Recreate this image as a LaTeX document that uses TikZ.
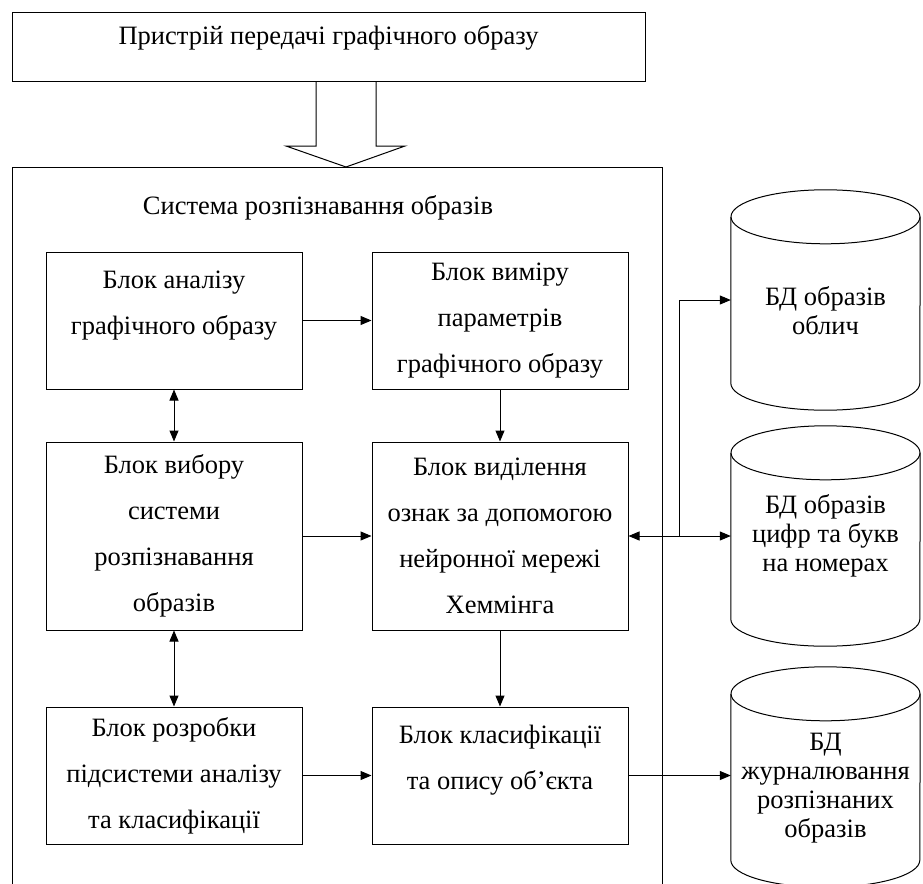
\documentclass[tikz,border=0pt]{standalone}
\usepackage{fontspec}
\setmainfont{Liberation Serif}
\usetikzlibrary{arrows.meta, calc}

\tikzset{
  blok/.style={draw, line width=1pt, minimum width=256pt, align=center, inner sep=0pt, font=\fontsize{26.5}{46}\selectfont},
  bd/.style={minimum width=189pt, minimum height=220pt, inner sep=0pt, align=center, font=\fontsize{26.5}{29}\selectfont},
  zv/.style={-{Triangle[length=11pt,width=9pt]}, line width=1pt},
  dvzv/.style={{Triangle[length=11pt,width=9pt]}-{Triangle[length=11pt,width=9pt]}, line width=1pt},
}

\begin{document}
\begin{tikzpicture}[x=1pt, y=-1pt]
  \clip (0,0) rectangle (923,883);
  \fill[white] (0,0) rectangle (923,883);

  \node[draw, line width=1pt, minimum width=633pt, minimum height=68pt, align=center, font=\fontsize{26.5}{46}\selectfont] (pryst) at (328.5,47) {Пристрій передачі графічного образу\\[-22pt]\mbox{}};

  % система
  \node[draw, line width=1pt, minimum width=650pt, minimum height=740pt, anchor=north west, inner sep=0pt] (sys) at (12,167) {};
  \node[font=\fontsize{26.5}{30}\selectfont] (systitle) at (318,208) {Система розпізнавання образів};

  \node[blok, minimum height=137pt] (analiz) at (174,320.5) {Блок аналізу\\графічного образу\\[-10pt]\mbox{}};
  \node[blok, minimum height=137pt] (vymir) at (500,320.5) {Блок виміру\\параметрів\\графічного образу};
  \node[blok, minimum height=188pt] (vybir) at (174,536) {Блок вибору\\системи\\розпізнавання\\образів};
  \node[blok, minimum height=188pt] (vydil) at (500,536) {Блок виділення\\ознак за допомогою\\нейронної мережі\\Хеммінга};
  \node[blok, minimum height=137pt] (rozrob) at (174,775.5) {Блок розробки\\підсистеми аналізу\\та класифікації};
  \node[blok, minimum height=137pt] (klasyf) at (500,775.5) {Блок класифікації\\та опису об’єкта\\[-10pt]\mbox{}};

  % бази даних
  \node[bd] (bdobl) at (825.5,300) {\strut\\[-10pt]БД образів\\облич};
  \node[bd] (bdcyfr) at (825.5,536) {БД образів\\цифр та букв\\на номерах};
  \node[bd] (bdzhur) at (825.5,777) {\strut\\[-10pt]БД\\журналювання\\розпізнаних\\образів};
  \foreach \n in {bdobl,bdcyfr,bdzhur} {
    \draw[line width=1pt] ($(\n.north)+(0,27)$) ellipse[x radius=94.5, y radius=27];
    \draw[line width=1pt] ($(\n.north west)+(0,27)$) -- ($(\n.south west)+(0,-27)$)
      arc[start angle=180, end angle=0, x radius=94.5, y radius=27] -- ($(\n.north east)+(0,27)$);
  }

  % широка стрілка
  \coordinate (vhid) at (346,167);
  \draw[line width=1pt] ($(vhid)+(-30,-86)$) -- ++(0,65) -- ++(-30,0) -- (vhid) -- ++(59,-21) -- ++(-29,0) -- ++(0,-65);

  \draw[zv] (analiz) -- (vymir);
  \draw[dvzv] (analiz) -- (vybir);
  \draw[zv] (vymir) -- (vydil);
  \draw[zv] (vybir) -- (vydil);
  \draw[dvzv] (vybir) -- (rozrob);
  \draw[zv] (vydil) -- (klasyf);
  \draw[zv] (rozrob) -- (klasyf);
  \draw[dvzv] (vydil.east) -- (vydil.east -| bdcyfr.west);
  \draw[zv] (klasyf.east) -- (klasyf.east -| bdzhur.west);
  \coordinate (rozg) at ($(vydil.east)!0.5!(vydil.east -| bdcyfr.west)$);
  \draw[zv] (rozg) |- (bdobl.west);
\end{tikzpicture}
\end{document}
